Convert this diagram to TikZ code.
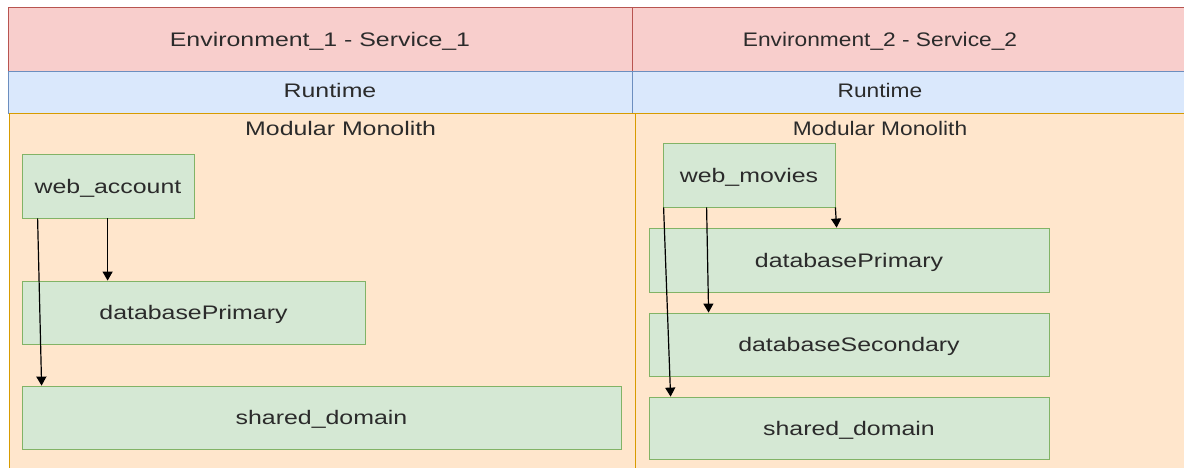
\documentclass[tikz,border=0pt]{standalone}
\usepackage{fontspec}
\setmainfont{Liberation Sans}
\newfontfamily\widesans[FakeStretch=1.27]{Liberation Sans}
\newfontfamily\midsans[FakeStretch=1.16]{Liberation Sans}
\usetikzlibrary{arrows.meta}
\definecolor{hdrfill}{HTML}{F8CECC}\definecolor{hdrline}{HTML}{B85450}
\definecolor{rtfill}{HTML}{DAE8FC}\definecolor{rtline}{HTML}{6C8EBF}
\definecolor{mmfill}{HTML}{FFE6CC}\definecolor{mmline}{HTML}{D79B00}
\definecolor{modfill}{HTML}{D5E8D4}\definecolor{modline}{HTML}{82B366}
\definecolor{ink}{HTML}{2B2B2B}
\begin{document}
\begin{tikzpicture}[x=1pt,y=-1pt,
  lbl/.style={font=\widesans\fontsize{19.6}{22}\selectfont, text=ink, inner sep=0pt},
  lblr/.style={font=\midsans\fontsize{19.6}{22}\selectfont, text=ink, inner sep=0pt},
  band/.style={line width=0.8pt},
  module/.style={draw=modline, fill=modfill, line width=0.8pt, rectangle, inner sep=0pt,
    font=\widesans\fontsize{19.6}{22}\selectfont, text=ink, text height=14pt, text depth=0pt},
  dep/.style={draw=black, line width=1.2pt, -{Triangle[length=9pt,width=10pt]}},
]
\useasboundingbox (0,0) rectangle (1184,467);
\fill[white] (0,0) rectangle (1184,467);

% environment headers
\draw[band, fill=hdrfill, draw=hdrline] (8,7) rectangle (632,71);
\draw[band, fill=hdrfill, draw=hdrline] (632,7) rectangle (1195,71);
% runtime bands
\draw[band, fill=rtfill, draw=rtline] (8,71) rectangle (632,113);
\draw[band, fill=rtfill, draw=rtline] (632,71) rectangle (1195,113);
% monolith containers
\draw[band, fill=mmfill, draw=mmline] (9,113) rectangle (635,480);
\draw[band, fill=mmfill, draw=mmline] (635,113) rectangle (1195,480);

\node[lbl, anchor=base] (env1) at (320,46) {Environment\_1 - Service\_1};
\node[lblr, anchor=base] (env2) at (880,46) {Environment\_2 - Service\_2};
\node[lbl, anchor=base] (rt1) at (330,97.5) {Runtime};
\node[lblr, anchor=base] (rt2) at (880,97.5) {Runtime};
\node[lbl, anchor=base west] (mm1) at (245,135) {Modular Monolith};
\node[lblr, anchor=base] (mm2) at (880,135) {Modular Monolith};

% modules of service 1
\node[module, minimum width=172pt, minimum height=64pt] (wa) at (108,186) {web\_account};
\node[module, minimum width=343pt, minimum height=63pt] (dp1) at (193.5,312.5) {databasePrimary};
\node[module, minimum width=599pt, minimum height=63pt] (sd1) at (321.5,417.5) {shared\_domain};

% modules of service 2
\node[module, minimum width=172pt, minimum height=64pt] (wm) at (749,175) {web\_movies};
\node[module, minimum width=400pt, minimum height=64pt] (dp2) at (849,260) {databasePrimary};
\node[module, minimum width=400pt, minimum height=63pt] (ds2) at (849,344.5) {databaseSecondary};
\node[module, minimum width=400pt, minimum height=62pt] (sd2) at (849,428) {shared\_domain};

% dependencies
\draw[dep] ([xshift=86pt]wa.south west) -- ([xshift=86pt]dp1.north west);
\draw[dep] ([xshift=16pt]wa.south west) -- ([xshift=20pt]sd1.north west);
\draw[dep] (wm.south east) -- ([xshift=188pt]dp2.north west);
\draw[dep] ([xshift=44pt]wm.south west) -- ([xshift=60pt]ds2.north west);
\draw[dep] ([xshift=1pt]wm.south west) -- ([xshift=22pt]sd2.north west);
\end{tikzpicture}
\end{document}
